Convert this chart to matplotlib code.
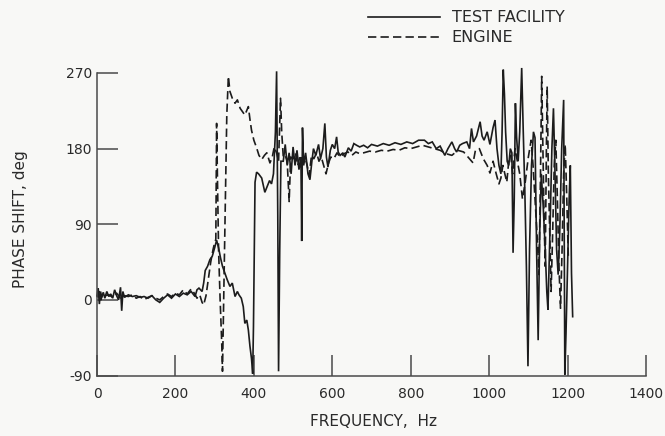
import matplotlib
matplotlib.use("Agg")
import matplotlib.pyplot as plt

# ---------------- data ----------------
tf_freq = [0, 3, 6, 9, 12, 16, 20, 25, 30, 35, 40, 45, 50, 55, 60, 63, 66, 70, 80, 90,
           100, 110, 120, 130, 140, 150, 160, 170, 180, 190, 200, 210, 220, 230, 240, 250,
           255, 260, 268, 272, 276, 282, 288, 294, 300, 305, 310, 315, 320, 326, 332, 339,
           345, 352, 358, 362, 368, 373, 377, 382, 386, 390, 394, 397, 399, 401, 403, 407,
           412, 420, 428, 434, 440, 445, 450, 455, 458, 461, 463, 466, 469, 475, 480, 485,
           490, 495, 500, 505, 510, 515, 520, 522, 524, 527, 532, 538, 543, 548, 552, 558,
           565, 570, 576, 581, 585, 589, 595, 600, 606, 611, 615, 620, 627, 632, 637, 641,
           648, 655, 662, 670, 680, 690, 700, 715, 730, 745, 760, 775, 790, 805, 820, 835,
           845, 855, 865, 875, 887, 895, 905, 912, 917, 925, 932, 943, 950, 955, 960, 968,
           977, 982, 987, 995, 1002, 1010, 1015, 1020, 1025, 1030, 1033, 1036, 1039, 1042,
           1046, 1050, 1054, 1058, 1061, 1064, 1067, 1070, 1074, 1078, 1083, 1087, 1091,
           1095, 1099, 1103, 1108, 1113, 1117, 1121, 1125, 1129, 1133, 1138, 1143, 1147,
           1150, 1155, 1160, 1164, 1168, 1172, 1176, 1180, 1185, 1190, 1193, 1196, 1200,
           1204, 1207, 1210, 1213]
tf_phase = [5, 14, -5, 10, 3, 9, 2, 10, 4, 7, 2, 12, 5, 0, 15, -13, 10, 3, 6, 4,
            5, 3, 4, 2, 5, 0, -3, 2, 6, 2, 7, 4, 8, 6, 10, 4,
            12, 14, 10, 20, 35, 40, 48, 52, 62, 71, 62, 50, 40, 32, 24, 16,
            20, 4, 10, 6, 2, -8, -28, -24, -36, -55, -70, -88, -32, 60, 140, 152,
            150, 145, 128, 135, 142, 138, 150, 200, 272, 100, -85, 60, 165, 165, 185, 160,
            175, 150, 182, 160, 178, 155, 170, 70, 205, 160, 175, 150, 143, 165, 180, 172,
            185, 168, 180, 210, 170, 158, 178, 185, 180, 194, 176, 172, 175, 170, 176, 181,
            177, 186, 184, 182, 184, 181, 185, 183, 186, 184, 187, 185, 188, 186, 190, 190,
            186, 188, 180, 183, 172, 180, 188, 180, 176, 184, 186, 188, 180, 204, 188, 195,
            212, 195, 190, 200, 185, 205, 214, 180, 160, 150, 200, 274, 245, 200,
            165, 160, 180, 175, 56, 120, 234, 194, 165, 200, 276, 200, 130,
            40, -79, 60, 160, 200, 193, 60, -48, 80, 150, 110, 60, 10,
            -12, 80, 180, 228, 150, 60, 30, 80, 180, 238, -89, -40, 40,
            120, 160, 32, -20]

eng_freq = [0, 5, 10, 15, 20, 30, 40, 50, 60, 70, 80, 90, 100, 110, 120, 130, 140, 150,
            160, 170, 180, 190, 200, 210, 220, 230, 240, 248, 255, 262, 268, 272, 278, 284,
            290, 296, 300, 303, 305, 307, 310, 314, 318, 320, 323, 327, 331, 335, 339, 345,
            352, 358, 365, 371, 377, 386, 390, 394, 400, 407, 413, 420, 427, 433, 441, 447,
            452, 458, 463, 468, 471, 475, 480, 485, 490, 494, 500, 506, 512, 518, 524, 530,
            536, 541, 547, 553, 560, 566, 572, 578, 584, 590, 596, 604, 612, 620, 630, 640,
            650, 660, 670, 680, 695, 710, 725, 740, 755, 770, 785, 800, 815, 830, 845, 860,
            875, 890, 905, 920, 935, 950, 959, 965, 975, 985, 995, 1002, 1010, 1018, 1025,
            1030, 1035, 1040, 1045, 1050, 1055, 1060, 1066, 1072, 1078, 1085, 1092, 1100,
            1107, 1112, 1117, 1122, 1127, 1131, 1134, 1137, 1140, 1143, 1146, 1148, 1151,
            1155, 1158, 1162, 1166, 1170, 1174, 1178, 1182, 1186, 1190, 1194, 1198, 1202]
eng_phase = [3, 10, 0, 8, 5, 6, 3, 8, 2, 5, 4, 6, 2, 4, 0, 3, 5, 2,
             0, 4, 7, 4, 8, 6, 12, 7, 13, 8, 2, 6, -3, -6, 5, 25,
             45, 60, 68, 72, 210, 150, 60, 0, -50, -85, 0, 120, 220, 266, 248, 240,
             234, 238, 228, 224, 220, 230, 215, 202, 190, 181, 172, 167, 172, 175, 163, 170,
             182, 175, 165, 240, 200, 170, 172, 165, 117, 170, 168, 175, 160, 172, 165, 170,
             160, 148, 172, 168, 175, 165, 170, 160, 150, 162, 170, 168, 175, 170, 174, 176,
             172, 176, 174, 175, 177, 176, 178, 177, 179, 178, 181, 180, 182, 184, 182, 180,
             178, 174, 172, 178, 176, 168, 163, 178, 180, 168, 160, 151, 165, 150, 138,
             145, 160, 150, 140, 165, 172, 150, 180, 165, 150, 120, 140, 170,
             190, 160, 120, 80, 30, 150, 266, 180, 100, 40, 180, 254, 150,
             70, 10, 80, 160, 190, 120, 40, -10, 60, 150, 185, 120, 50]

x_ticks = [0, 200, 400, 600, 800, 1000, 1200, 1400]
y_ticks = [-90, 0, 90, 180, 270]
series_labels = ["TEST FACILITY", "ENGINE"]

# ---------------- figure ----------------
plt.rcParams['font.family'] = ['DejaVu Sans']
plt.rcParams['axes.unicode_minus'] = False
bg = '#f8f8f6'
ink = '#1c1c1c'
fig = plt.figure(figsize=(6.65, 4.36), dpi=100, facecolor=bg)
ax = fig.add_axes([97 / 665, 1 - 375.5 / 436, 549 / 665, 302.5 / 436], facecolor=bg)

l1, = ax.plot(tf_freq, tf_phase, color=ink, lw=1.2, solid_joinstyle='miter',
              clip_on=False, label=series_labels[0])
l2, = ax.plot(eng_freq, eng_phase, color=ink, lw=1.2, dashes=(5, 2.5),
              clip_on=False, label=series_labels[1])

ax.set_xlim(0, 1400)
ax.set_ylim(-90, 270)
ax.set_xticks(x_ticks)
ax.set_yticks(y_ticks)
for s in ['top', 'right']:
    ax.spines[s].set_visible(False)
for s in ['left', 'bottom']:
    ax.spines[s].set_color('#4a4a4a')
    ax.spines[s].set_linewidth(1.1)
ax.tick_params(axis='both', direction='in', length=15, width=1.1, color='#4a4a4a',
               labelsize=10, labelcolor='#2a2a2a')
ax.tick_params(axis='x', pad=8)
ax.tick_params(axis='y', pad=3.5)

ax.set_xlabel('FREQUENCY,  Hz', fontsize=11, color='#2a2a2a', va='center')
ax.xaxis.set_label_coords((373 - 97) / 549, (375.5 - 421.5) / 302.5)
ax.set_ylabel('PHASE SHIFT, deg', fontsize=11, color='#2a2a2a', va='center', ha='center')
ax.yaxis.set_label_coords((20.5 - 97) / 549, (375.5 - 219) / 302.5)

leg = ax.legend(handles=[l1, l2], loc='upper left', frameon=False,
                bbox_to_anchor=(368 / 665, 1 - 10.5 / 436), bbox_transform=fig.transFigure,
                fontsize=11.5, handlelength=4.5, handletextpad=0.75, borderpad=0,
                borderaxespad=0, labelspacing=0.3)
for t in leg.get_texts():
    t.set_color('#2a2a2a')

fig.savefig('out.png', dpi=100, facecolor=bg)
